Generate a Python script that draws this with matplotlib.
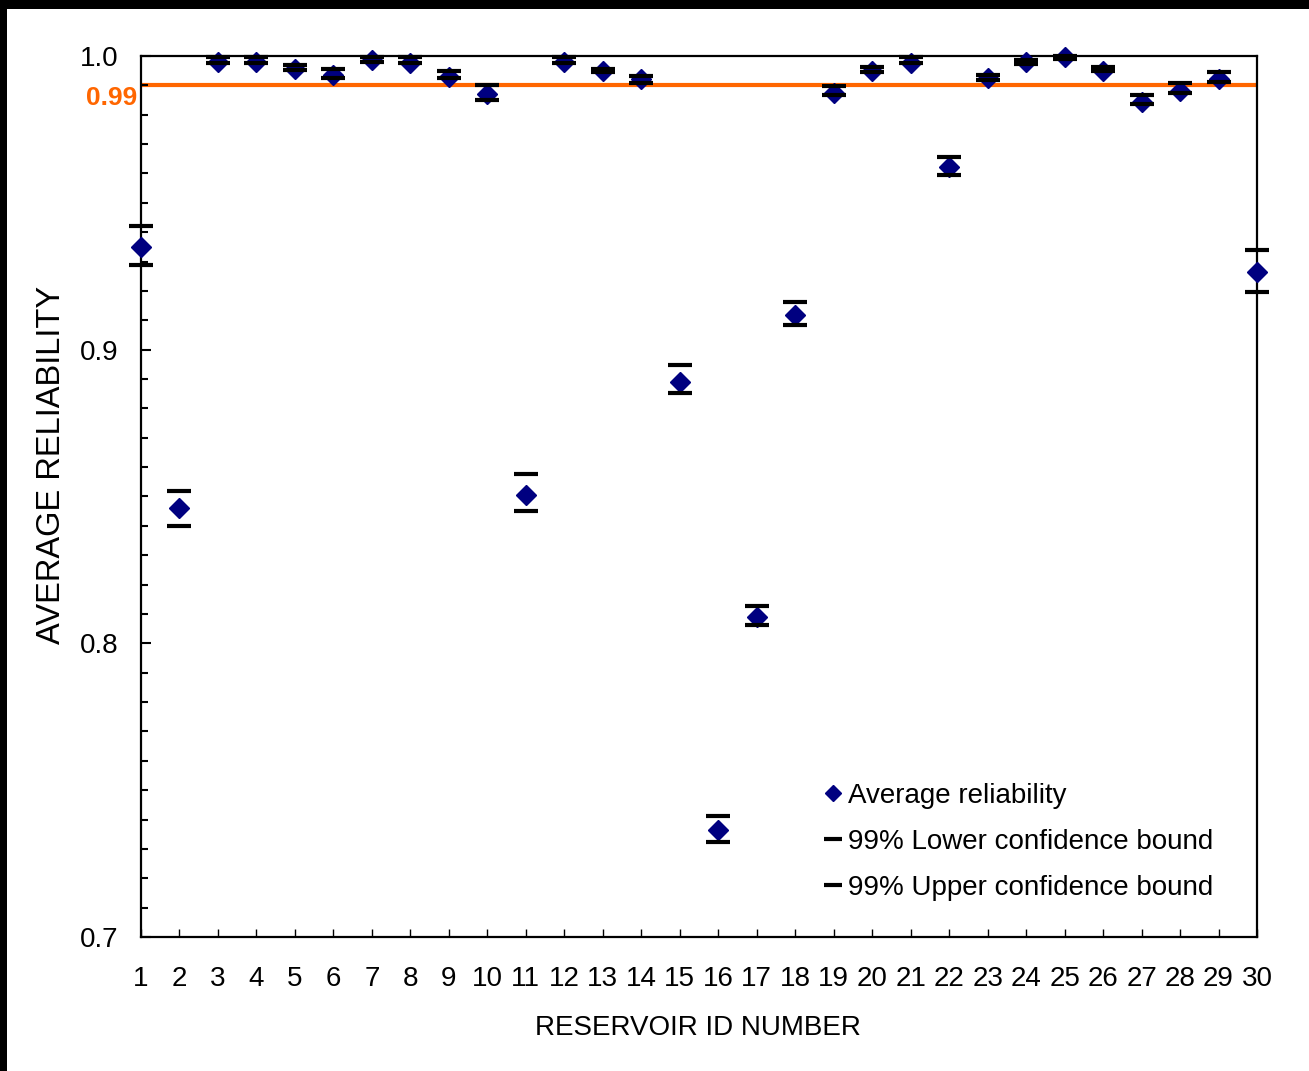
import matplotlib
matplotlib.use("Agg")
import matplotlib.pyplot as plt
from matplotlib.patches import Rectangle
from matplotlib.ticker import MultipleLocator, FormatStrFormatter

# データ
reservoir_id = list(range(1, 31))
avg_reliability = [0.935, 0.846, 0.998, 0.998, 0.9957, 0.9934, 0.9986, 0.9977, 0.9928, 0.9871,
                   0.8505, 0.998, 0.995, 0.9923, 0.8891, 0.7364, 0.8091, 0.9118, 0.9874, 0.995,
                   0.9977, 0.9623, 0.9924, 0.9978, 0.9995, 0.995, 0.9844, 0.9881, 0.9922, 0.9263]
lower_bound = [0.929, 0.840, 0.9977, 0.9977, 0.9952, 0.9925, 0.998, 0.9975, 0.9924, 0.9851,
               0.845, 0.9977, 0.9944, 0.9909, 0.8851, 0.7325, 0.8062, 0.9084, 0.9867, 0.9945,
               0.9975, 0.9596, 0.9917, 0.9973, 0.9990, 0.9948, 0.9837, 0.9875, 0.9911, 0.9195]
upper_bound = [0.942, 0.852, 0.9995, 0.9995, 0.9969, 0.9956, 0.9996, 0.9995, 0.9948, 0.990,
               0.8577, 0.9995, 0.9956, 0.9933, 0.8947, 0.7413, 0.8128, 0.9162, 0.9899, 0.9962,
               0.9995, 0.9655, 0.9937, 0.9985, 1.0, 0.9963, 0.9866, 0.9909, 0.9946, 0.934]
target_level = 0.99

W, H = 1309, 1071
FS = 20
ORANGE = "#FF6600"
NAVY = "#000080"

plt.rcParams["font.family"] = ["Liberation Sans", "DejaVu Sans"]


def main():
    fig = plt.figure(figsize=(W / 100, H / 100), dpi=100)
    fig.patch.set_facecolor("black")
    # 上と左の黒い枠を残して白背景
    fig.patches.append(Rectangle((7 / W, 0), 1, 1 - 9 / H, transform=fig.transFigure,
                                 facecolor="white", edgecolor="none", zorder=-10))

    ax = fig.add_axes([141 / W, 1 - 937 / H, (1257 - 141) / W, (937 - 56) / H])

    # 0.99 の基準線
    ax.axhline(target_level, color=ORANGE, lw=3, zorder=1)

    ax.plot(reservoir_id, avg_reliability, ls="none", marker="D", ms=10.5, color=NAVY,
            label="Average reliability", zorder=3, clip_on=False)
    ax.plot(reservoir_id, lower_bound, ls="none", marker="_", ms=17, mew=3, color="black",
            label="99% Lower confidence bound", zorder=4, clip_on=False)
    ax.plot(reservoir_id, upper_bound, ls="none", marker="_", ms=17, mew=3, color="black",
            label="99% Upper confidence bound", zorder=4, clip_on=False)

    ax.set_xlim(1, 30)
    ax.set_ylim(0.7, 1.0)
    ax.set_xticks(reservoir_id)
    ax.yaxis.set_major_locator(MultipleLocator(0.1))
    ax.yaxis.set_minor_locator(MultipleLocator(0.01))
    ax.yaxis.set_major_formatter(FormatStrFormatter("%.1f"))

    ax.tick_params(axis="y", which="major", direction="in", length=7, width=1.5,
                   labelsize=FS, pad=16)
    ax.tick_params(axis="y", which="minor", direction="in", length=5, width=1.5)
    ax.tick_params(axis="x", direction="in", length=6, width=1, labelsize=FS, pad=21)
    for s in ax.spines.values():
        s.set_linewidth(1.6)

    fig.text(52 / W, 1 - 465 / H, "AVERAGE RELIABILITY", rotation=90,
             ha="center", va="center", fontsize=23.5)
    fig.text(698 / W, 1 - 1028 / H, "RESERVOIR ID NUMBER", ha="center", va="center",
             fontsize=FS)
    fig.text(137 / W, 1 - 98 / H, "0.99", ha="right", va="center", fontsize=19,
             color=ORANGE, fontweight="bold")

    ax.legend(loc="upper left", bbox_to_anchor=(823 / W, 1 - 783 / H),
              bbox_transform=fig.transFigure, frameon=False, fontsize=FS,
              markerscale=0.75, handlelength=0.7, handletextpad=0.2,
              labelspacing=0.72, borderpad=0, borderaxespad=0)

    fig.savefig("out.png", dpi=100)


if __name__ == "__main__":
    main()
